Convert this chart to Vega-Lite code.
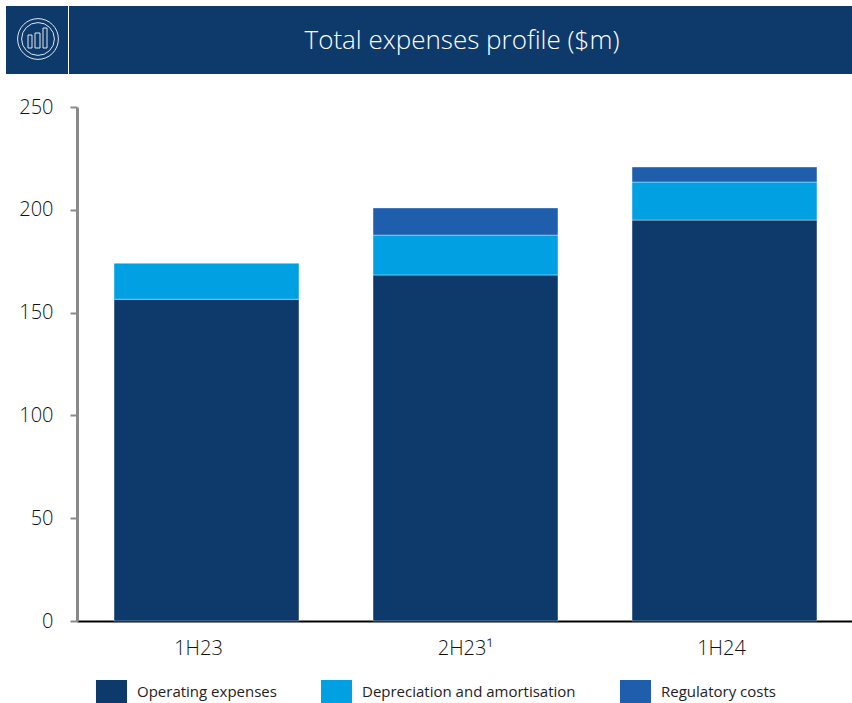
{
"$schema":"https://vega.github.io/schema/vega-lite/v6.json",
"padding":{"left":6,"top":5,"right":0,"bottom":0},
"background":"white",
"spacing":22,
"config":{"font":"Open Sans"},
"vconcat":[
{"width":846,"height":68,
 "view":{"fill":"#0e3a6b","stroke":null},
 "data":{"values":[{"kind":"title","x":456,"y":35,"label":"Total expenses profile ($m)"}]},
 "layer":[
  {"mark":{"type":"text","font":"Open Sans","fontSize":26,"fontWeight":300,"color":"#ffffff","align":"center","baseline":"middle"},
   "encoding":{"x":{"field":"x","type":"quantitative","scale":{"domain":[0,846],"nice":false},"axis":null},
   "y":{"field":"y","type":"quantitative","scale":{"domain":[68,0],"nice":false},"axis":null},"text":{"field":"label"}}},
  {"data":{"values":[{"x":62.5}]},"mark":{"type":"rule","color":"#ffffff","strokeWidth":1},
   "encoding":{"x":{"field":"x","type":"quantitative"}}},
  {"data":{"values":[{"x":32,"y":33}]},"mark":{"type":"point","shape":"circle","size":1662,"filled":false,"color":"#dfe7f0","strokeWidth":1,"opacity":1},
   "encoding":{"x":{"field":"x","type":"quantitative"},"y":{"field":"y","type":"quantitative"}}},
  {"data":{"values":[{"x":32,"y":33}]},"mark":{"type":"point","shape":"circle","size":1075,"filled":false,"color":"#dfe7f0","strokeWidth":1,"opacity":1},
   "encoding":{"x":{"field":"x","type":"quantitative"},"y":{"field":"y","type":"quantitative"}}},
  {"data":{"values":[{"x":22,"x2":26,"y":29,"y2":42},{"x":29,"x2":34,"y":27,"y2":42},{"x":37,"x2":41,"y":22,"y2":42}]},
   "mark":{"type":"rect","fill":null,"stroke":"#dfe7f0","strokeWidth":1},
   "encoding":{"x":{"field":"x","type":"quantitative"},"x2":{"field":"x2"},"y":{"field":"y","type":"quantitative"},"y2":{"field":"y2"}}}
 ]},
{"width":846,"height":514,
 "view":{"stroke":null},
 "data":{"values":[
  {"period":"1H23","series":"Operating expenses","value":156.5},
  {"period":"1H23","series":"Depreciation and amortisation","value":17.5},
  {"period":"2H23¹","series":"Operating expenses","value":168.3},
  {"period":"2H23¹","series":"Depreciation and amortisation","value":19.4},
  {"period":"2H23¹","series":"Regulatory costs","value":13.2},
  {"period":"1H24","series":"Operating expenses","value":195},
  {"period":"1H24","series":"Depreciation and amortisation","value":18.5},
  {"period":"1H24","series":"Regulatory costs","value":7.3}
 ]},
 "transform":[{"calculate":"indexof(['Operating expenses','Depreciation and amortisation','Regulatory costs'],datum.series)","as":"ord"}],
 "mark":{"type":"bar","stroke":"#ffffff","strokeWidth":0.75,"strokeOpacity":0.5},
 "encoding":{
  "x":{"field":"period","type":"nominal","sort":["1H23","2H23¹","1H24"],
   "scale":{"range":[71,848],"paddingInner":0.286,"paddingOuter":0.143},
   "axis":{"title":null,"labelAngle":0,"ticks":false,"domainColor":"#000000","domainWidth":2,"labelFontSize":20,"labelFont":"Open Sans","labelColor":"#111111","labelPadding":17,"labelFontWeight":300,"labelOffset":{"expr":"datum.label=='1H23'?-8:(datum.label=='1H24'?-3:0)"}}},
  "y":{"field":"value","type":"quantitative","stack":"zero","scale":{"domain":[0,250],"nice":false},
   "axis":{"title":null,"offset":-71,"values":[0,50,100,150,200,250],"grid":false,"domainColor":"#8a8a8a","domainWidth":3,"tickColor":"#8a8a8a","tickWidth":2,"tickSize":7,"labelFontSize":20,"labelFont":"Open Sans","labelColor":"#111111","labelPadding":17,"labelFontWeight":300}},
  "color":{"field":"series","type":"nominal",
   "scale":{"domain":["Operating expenses","Depreciation and amortisation","Regulatory costs"],"range":["#0e3a6b","#00a0e3","#1f5dad"]},
   "legend":{"title":null,"orient":"none","legendX":94,"legendY":674,"direction":"horizontal","columns":3,"symbolType":"M-1.35,-1H1.35V1H-1.35Z","symbolSize":529,"symbolStrokeWidth":0,"labelFontSize":15,"labelFont":"Open Sans","labelColor":"#222222","labelOffset":14,"labelLimit":300,"columnPadding":43,"symbolOpacity":1}},
  "order":{"field":"ord","type":"quantitative"}
 }}
]}
